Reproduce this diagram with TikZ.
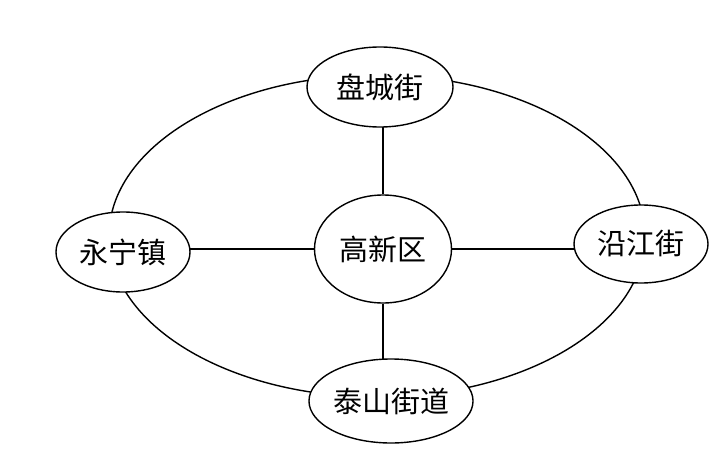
\documentclass[tikz,border=0pt]{standalone}
\usepackage{fontspec}
\newfontfamily\cjk{Noto Sans CJK SC}
\usetikzlibrary{shapes.geometric,backgrounds}
\tikzset{
  place/.style={ellipse, draw, fill=white, line width=1.4pt, inner sep=0pt,
    font=\cjk\fontsize{29}{29}\selectfont},
  link/.style={line width=1.4pt}
}
\begin{document}
\begin{tikzpicture}[x=1pt,y=-1pt]
\useasboundingbox (0,0) rectangle (727,457);
\node[place, minimum width=146pt, minimum height=80pt] (pc) at (380,87) {盘城街};
\node[place, minimum width=137pt, minimum height=108pt] (gx) at (383,249) {高新区};
\node[place, minimum width=134pt, minimum height=80pt] (yn) at (123,252) {永宁镇};
\node[place, minimum width=134pt, minimum height=78pt] (yj) at (641,244) {沿江街};
\node[place, minimum width=152pt, minimum height=84pt] (ts) at (391,401) {泰山街道};
\begin{scope}[on background layer]
  \draw[link] (377,236) ellipse [x radius=268pt, y radius=161pt];
  \draw[link] (gx) -- (gx |- pc);
  \draw[link] (gx) -- (gx |- ts);
  \draw[link] (gx) -- (gx -| yn);
  \draw[link] (gx) -- (gx -| yj);
\end{scope}
\end{tikzpicture}
\end{document}
